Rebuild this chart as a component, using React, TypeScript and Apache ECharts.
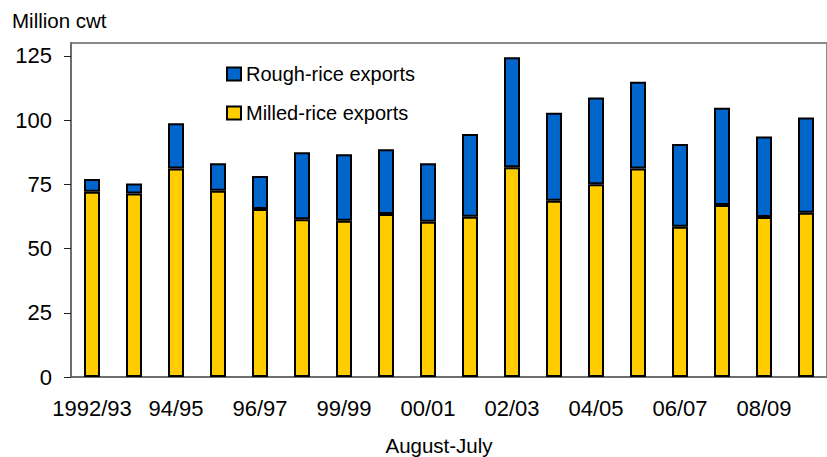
import React, { useEffect, useRef } from "react";
import * as echarts from "echarts";

// Marketing years (August-July); labels are shown on every other year
const years = [
  "1992/93", "93/94", "94/95", "95/96", "96/97", "97/98", "99/99", "99/00", "00/01",
  "01/02", "02/03", "03/04", "04/05", "05/06", "06/07", "07/08", "08/09", "09/10",
];

// Exports, million cwt
const milledRice = [
  72.1, 71.4, 81.2, 72.5, 65.4, 61.4, 60.8, 63.4, 60.4,
  62.4, 81.6, 68.6, 75.0, 81.2, 58.5, 66.9, 62.3, 63.9,
];
const roughRice = [
  5.0, 3.9, 17.6, 10.7, 12.8, 26.1, 25.9, 25.2, 22.8,
  32.2, 42.9, 34.3, 33.8, 33.7, 32.2, 37.9, 31.3, 37.1,
];

const yTicks = [0, 25, 50, 75, 100, 125];

const FONT = "'Liberation Sans', Arial, sans-serif";

export default function App() {
  const ref = useRef<HTMLDivElement>(null);

  useEffect(() => {
    if (!ref.current) return;
    const chart = echarts.init(ref.current, undefined, { renderer: "svg" });

    chart.setOption({
      animation: false,
      textStyle: { fontFamily: FONT, color: "#000" },
      grid: {
        left: 71,
        right: -4,
        top: 43,
        bottom: 80,
        show: true,
        borderColor: "#888",
        borderWidth: 2,
        backgroundColor: "transparent",
      },
      legend: {
        orient: "vertical",
        left: 226,
        top: 64,
        padding: 0,
        icon: "rect",
        itemWidth: 14,
        itemHeight: 13,
        itemGap: 19,
        data: ["Rough-rice exports", "Milled-rice exports"],
        textStyle: { fontFamily: FONT, fontSize: 20, color: "#000", lineHeight: 20, padding: [0, 0, 0, 0] },
      },
      xAxis: {
        type: "category",
        data: years,
        boundaryGap: true,
        axisLine: { lineStyle: { color: "#666", width: 1.5 } },
        axisTick: { alignWithLabel: false, interval: 0, length: 8, lineStyle: { color: "#444" } },
        axisLabel: {
          interval: 1,
          margin: 20,
          fontSize: 22,
          fontFamily: FONT,
          color: "#000",
        },
        splitLine: { show: false },
      },
      yAxis: {
        type: "value",
        min: 0,
        max: 130,
        interval: 25,
        axisLine: { show: true, lineStyle: { color: "#666", width: 1.5 } },
        axisTick: { show: true, length: 7, lineStyle: { color: "#222" }, customValues: yTicks },
        axisLabel: { margin: 19, fontSize: 22, fontFamily: FONT, color: "#000", customValues: yTicks },
        splitLine: { show: false },
      },
      series: [
        {
          name: "Milled-rice exports",
          type: "bar",
          stack: "exports",
          data: milledRice,
          barWidth: 16,
          itemStyle: { color: "#FFCC00", borderColor: "#000", borderWidth: 2 },
        },
        {
          name: "Rough-rice exports",
          type: "bar",
          stack: "exports",
          data: roughRice,
          barWidth: 16,
          itemStyle: { color: "#0066CC", borderColor: "#000", borderWidth: 2 },
        },
      ],
      graphic: [
        {
          type: "text",
          left: 12,
          top: 10,
          style: { text: "Million cwt", fontSize: 20.5, fontFamily: FONT, fill: "#000" },
        },
        {
          type: "text",
          x: 439,
          y: 445,
          style: {
            text: "August-July",
            fontSize: 20.5,
            fontFamily: FONT,
            fill: "#000",
            textAlign: "center",
            textVerticalAlign: "middle",
          },
        },
      ],
    });

    return () => chart.dispose();
  }, []);

  return (
    <div
      ref={ref}
      style={{ position: "absolute", left: 0, top: 0, width: 827, height: 457, background: "#fff" }}
    />
  );
}
